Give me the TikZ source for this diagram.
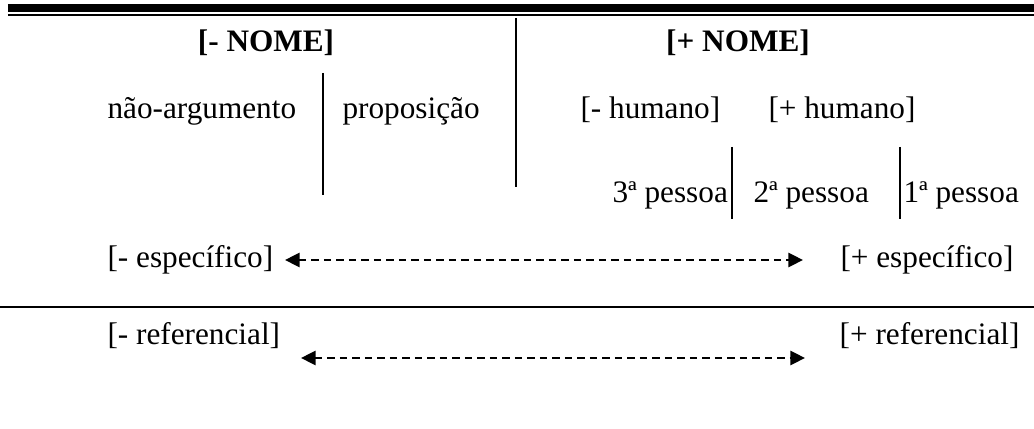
\documentclass[tikz,border=0pt]{standalone}
\usepackage{fontspec}
\setmainfont{Liberation Serif}
\usetikzlibrary{positioning, arrows.meta}

\begin{document}
\begin{tikzpicture}[
			x=0.384pt, y=-0.384pt,
			font=\fontsize{12}{14}\selectfont,
			txt/.style={
				anchor=base west,
				inner sep=0pt
			},
			headtxt/.style={
				anchor=base,
				inner sep=0pt,
				font=\fontsize{12}{14}\selectfont\bfseries
			},
			divider/.style={
				line width=0.8pt
			},
			scalearrow/.style={
				line width=1pt,
				dash pattern=on 2.9pt off 1.9pt,
				{Triangle[length=5.6pt,width=5.4pt]}-{Triangle[length=5.6pt,width=5.4pt]}
			}
			]
			
			\useasboundingbox (0,0) rectangle (1034,429);
			
			% Top rules
			\draw[line width=3.1pt] (8,8) -- (1034,8);
			\draw[line width=0.77pt] (8,15) -- (1034,15);
			
			% Headings
			\node[headtxt] (negnome) at (266,52) {[- NOME]};
			\node[headtxt] (posnome) at (738,52) {[+ NOME]};
			
			% Second row
			\node[txt] (naoarg) at (107,119) {não-argumento};
			\node[txt] (prop) at (342,119) {proposição};
			\node[txt] (neghum) at (580,119) {[- humano]};
			\node[txt] (poshum) at (768,119) {[+ humano]};
			
			% Persons
			\node[txt] (p3) at (612,203) {3ª pessoa};
			\node[txt] (p2) at (753,203) {2ª pessoa};
			\node[txt] (p1) at (903,203) {1ª pessoa};
			
			% Dividers
			\draw[divider] (516,18) -- (516,187);
			\draw[divider] (323,73) -- (323,195);
			\draw[divider] (732,147) -- (732,219);
			\draw[divider] (900,147) -- (900,219);
			
			% Specificity scale
			\node[txt] (negesp) at (107,268) {[- específico]};
			\node[txt] (posesp) at (840,268) {[+ específico]};
			\coordinate (espL) at (285,260);
			\coordinate (espR) at (803,260);
			\draw[scalearrow] (espL) -- (espR);
			
			\draw[line width=0.77pt] (0,307) -- (1034,307);
			
			% Referentiality scale
			\node[txt] (negref) at (107,345) {[- referencial]};
			\node[txt, anchor=base east] (posref) at (1020,345) {[+ referencial]};
			\coordinate (refL) at (301,358);
			\coordinate (refR) at (805,358);
			\draw[scalearrow] (refL) -- (refR);
			
		\end{tikzpicture}
\end{document}
